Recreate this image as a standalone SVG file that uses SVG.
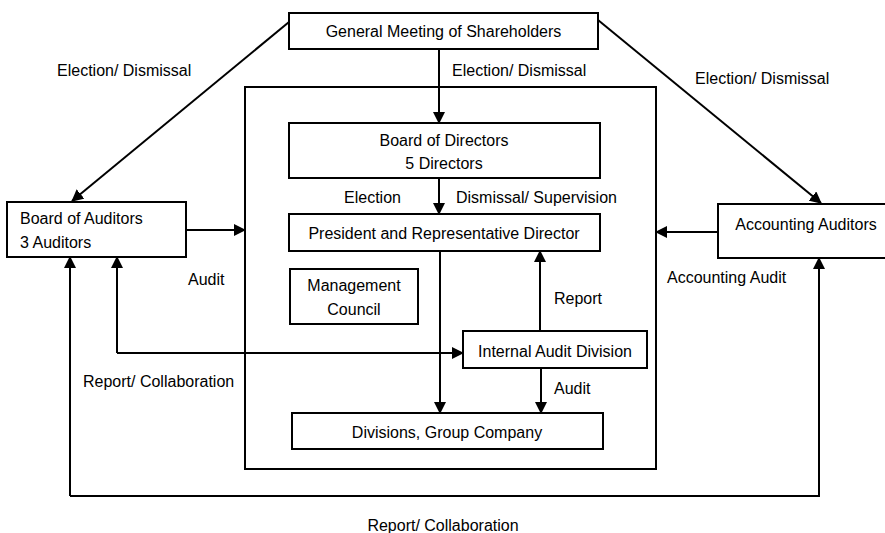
<svg xmlns="http://www.w3.org/2000/svg" width="885" height="533" viewBox="0 0 885 533">
<style>
.box{fill:#fff;stroke:#000;stroke-width:2}
.frame{fill:none;stroke:#000;stroke-width:2}
.ln{fill:none;stroke:#000;stroke-width:2}
.t{font-family:"Liberation Sans",Arial,sans-serif;font-size:16px;fill:#000}
.c{text-anchor:middle}
</style>
<defs>
<marker id="ah" markerWidth="12" markerHeight="12" refX="11" refY="6" orient="auto" markerUnits="userSpaceOnUse">
<path d="M0,0 L12,6 L0,12 Z" fill="#000"/>
</marker>
</defs>
<rect x="0" y="0" width="885" height="533" fill="#fff"/>
<rect id="frame-company" class="frame" x="245" y="87" width="411" height="382"/>
<g id="connectors">
<path class="ln" d="M289,22 L72,201" marker-end="url(#ah)"/>
<path class="ln" d="M598,20 L821,203" marker-end="url(#ah)"/>
<path class="ln" d="M439,49 L439,123" marker-end="url(#ah)"/>
<path class="ln" d="M439,178 L439,214" marker-end="url(#ah)"/>
<path class="ln" d="M186,230 L245,230" marker-end="url(#ah)"/>
<path class="ln" d="M718,232 L656,232" marker-end="url(#ah)"/>
<path class="ln" d="M440,251 L440,413" marker-end="url(#ah)"/>
<path class="ln" d="M540,331 L540,251" marker-end="url(#ah)"/>
<path class="ln" d="M541,368 L541,413" marker-end="url(#ah)"/>
<path class="ln" d="M117,353 L463,353" marker-end="url(#ah)"/>
<path class="ln" d="M117,353 L117,257" marker-end="url(#ah)"/>
<path class="ln" d="M70,496 L70,257" marker-end="url(#ah)"/>
<path class="ln" d="M70,496 L819,496 L819,258" marker-end="url(#ah)"/>
</g>
<g id="n-gms"><rect class="box" x="289" y="13" width="309" height="36"/><text class="t c" x="443.5" y="37">General Meeting of Shareholders</text></g>
<g id="n-bod"><rect class="box" x="289" y="123" width="311" height="55"/><text class="t c" x="444" y="146">Board of Directors</text><text class="t c" x="444" y="169">5 Directors</text></g>
<g id="n-president"><rect class="box" x="289" y="214" width="311" height="37"/><text class="t c" x="444" y="239">President and Representative Director</text></g>
<g id="n-council"><rect class="box" x="290" y="269" width="128" height="55"/><text class="t c" x="354" y="291">Management</text><text class="t c" x="354" y="315">Council</text></g>
<g id="n-iad"><rect class="box" x="463" y="331" width="184" height="37"/><text class="t c" x="555" y="357">Internal Audit Division</text></g>
<g id="n-divisions"><rect class="box" x="292" y="413" width="311" height="36"/><text class="t c" x="447" y="438">Divisions, Group Company</text></g>
<g id="n-boa"><rect class="box" x="7" y="202" width="179" height="55"/><text class="t" x="20" y="224">Board of Auditors</text><text class="t" x="20" y="248">3 Auditors</text></g>
<g id="n-aa"><rect class="box" x="718" y="204" width="170" height="54"/><text class="t c" x="806" y="230">Accounting Auditors</text></g>
<g id="labels">
<text class="t" x="57" y="76">Election/ Dismissal</text>
<text class="t" x="452" y="76">Election/ Dismissal</text>
<text class="t" x="695" y="84">Election/ Dismissal</text>
<text class="t" x="344" y="203">Election</text>
<text class="t" x="456" y="203">Dismissal/ Supervision</text>
<text class="t" x="188" y="285">Audit</text>
<text class="t" x="667" y="283">Accounting Audit</text>
<text class="t" x="554" y="304">Report</text>
<text class="t" x="83" y="387">Report/ Collaboration</text>
<text class="t" x="554" y="394">Audit</text>
<text class="t c" x="443" y="531">Report/ Collaboration</text>
</g>
</svg>
